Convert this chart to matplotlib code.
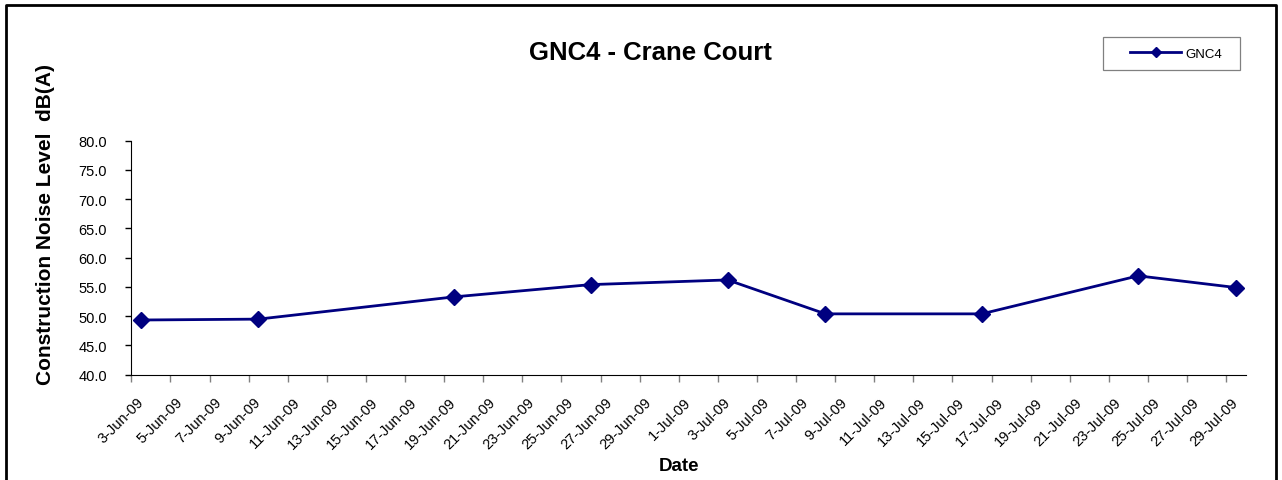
import matplotlib.pyplot as plt
import matplotlib.transforms as mtransforms
from matplotlib.patches import Rectangle
import datetime as dt

# measured noise levels at GNC4
dates = ["2009-06-03", "2009-06-09", "2009-06-19", "2009-06-26", "2009-07-03",
         "2009-07-08", "2009-07-16", "2009-07-24", "2009-07-29"]
levels = [49.35, 49.5, 53.3, 55.4, 56.2, 50.4, 50.4, 56.9, 54.9]

y_ticks = [40.0, 45.0, 50.0, 55.0, 60.0, 65.0, 70.0, 75.0, 80.0]
x_start = dt.datetime(2009, 6, 3)
x_end = dt.datetime(2009, 7, 30)

plt.rcParams['font.family'] = ['Liberation Sans', 'DejaVu Sans']

W, H = 1282, 481
fig = plt.figure(figsize=(W / 100, H / 100), dpi=100)
ax = fig.add_axes([131.3 / W, 1 - 375.7 / H, (1245.7 - 131.3) / W, (375.7 - 141.7) / H])

# Excel puts the point in the middle of the day
x = [dt.datetime.strptime(d, "%Y-%m-%d") + dt.timedelta(hours=12) for d in dates]
ax.plot(x, levels, color="#000080", lw=2, marker="D", ms=8.5, label="GNC4")

ax.set_xlim(x_start, x_end)
ax.set_ylim(40, 80)
ax.set_yticks(y_ticks)
ax.set_yticklabels([f"{v:.1f}" for v in y_ticks], fontsize=10.5)

tick_days = [x_start + dt.timedelta(days=2 * i) for i in range(29)]
ax.set_xticks(tick_days)
ax.set_xticklabels([])
# rotated date labels, shifted like Excel does
shift = mtransforms.ScaledTranslation(0.05, -0.20, fig.dpi_scale_trans)
for d in tick_days:
    ax.text(d, 0, f"{d.day}-{d.strftime('%b')}-09", transform=ax.get_xaxis_transform() + shift,
            rotation=45, ha="right", va="top", rotation_mode="anchor", fontsize=10.5)

ax.spines["top"].set_visible(False)
ax.spines["right"].set_visible(False)
ax.tick_params(axis="y", direction="out", length=4, width=1, pad=13.5)
ax.tick_params(axis="x", direction="out", length=5, width=1, color="#808080", pad=3)

ax.set_ylabel("Construction Noise Level  dB(A)", fontsize=15, fontweight="bold")
ax.yaxis.set_label_coords((55 - 131.3) / 1114.4, 0.648)
ax.set_xlabel("Date", fontsize=13.5, fontweight="bold", va="center")
ax.xaxis.set_label_coords((679 - 131.3) / 1114.4, (375.7 - 466.7) / 234)
fig.text(650 / W, 1 - 53.3 / H, "GNC4 - Crane Court", fontsize=18.5, fontweight="bold",
         ha="center", va="center")

# legend: frame drawn separately to match the Excel box
fig.add_artist(Rectangle((1103 / W, 1 - 71 / H), 137 / W, 33 / H, transform=fig.transFigure,
                         fill=False, edgecolor="#808080", lw=0.9))
leg = ax.legend(loc="center left", bbox_to_anchor=(1130 / W, 1 - 54.5 / H),
                bbox_transform=fig.transFigure, frameon=False, fontsize=9.5,
                markerscale=0.65, handlelength=3.9, handletextpad=0.3,
                borderpad=0, borderaxespad=0)

# outer chart border
fig.add_artist(plt.Line2D([6 / W, 6 / W, 1276 / W, 1276 / W],
                          [0, 1 - 6 / H, 1 - 6 / H, 0],
                          transform=fig.transFigure, color="black", lw=2))

fig.savefig("out.png", dpi=100)
